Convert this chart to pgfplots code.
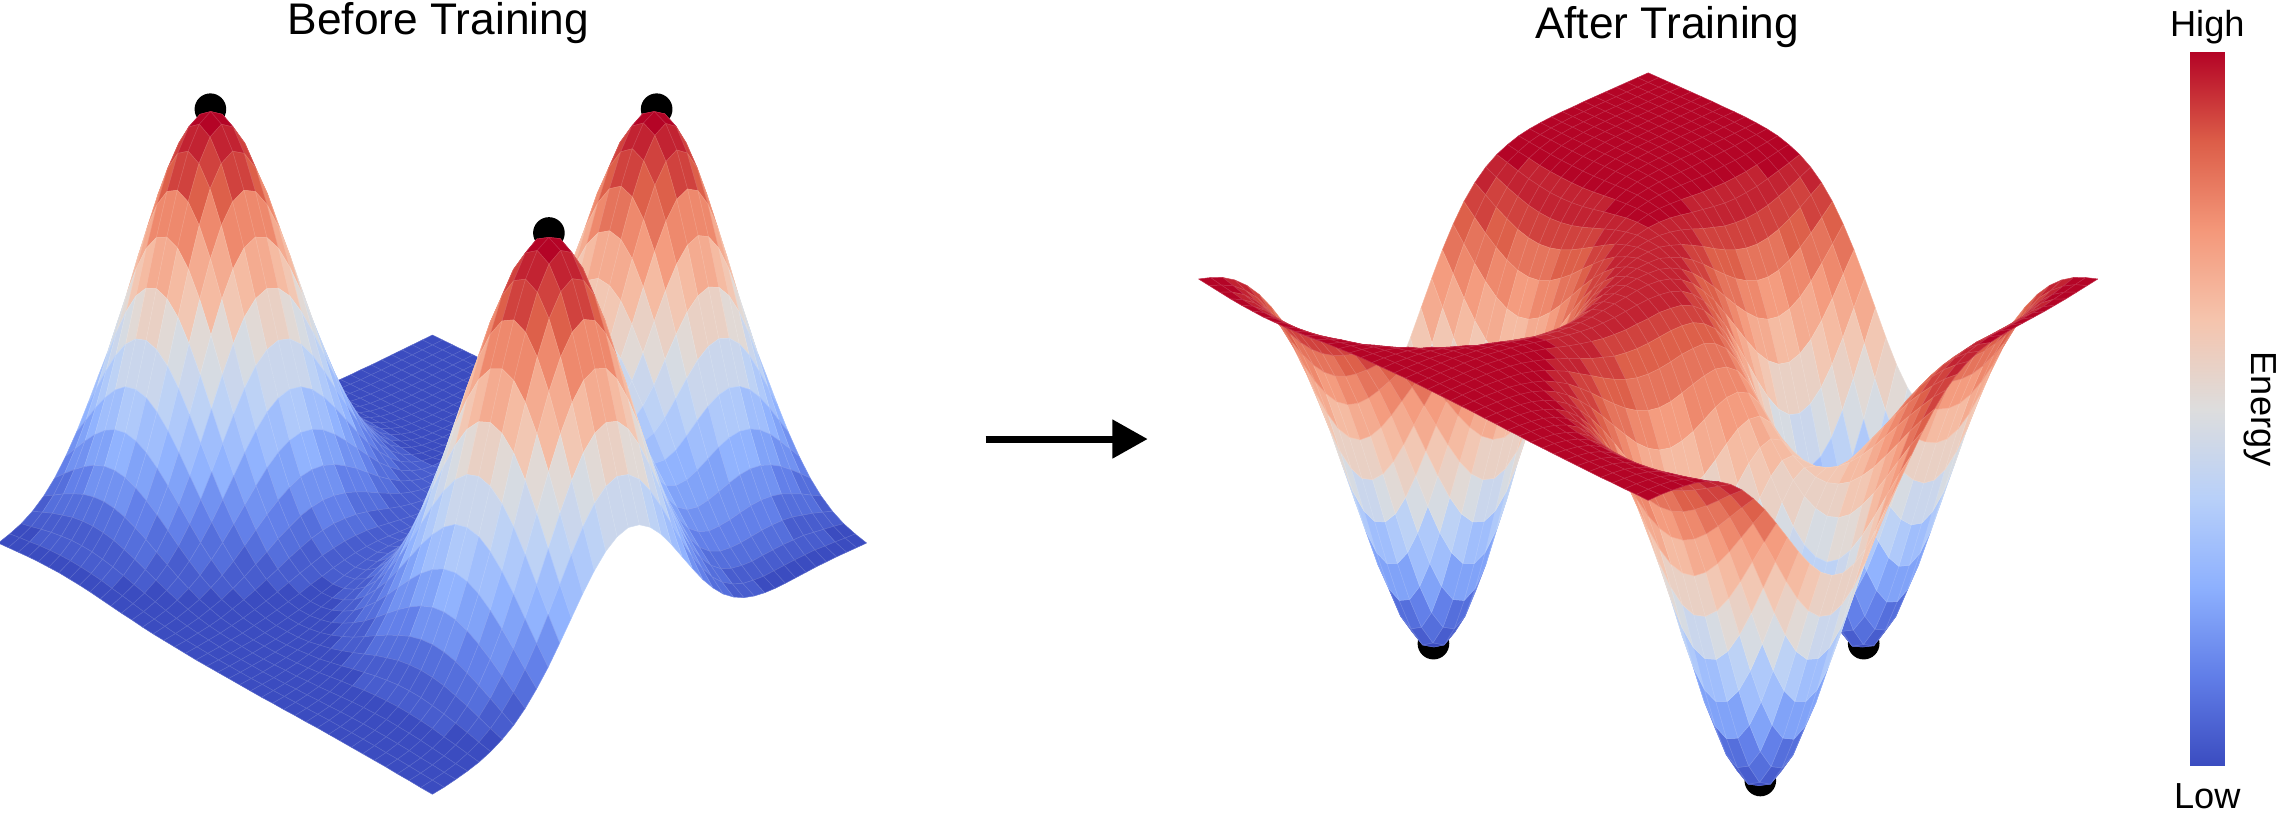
\documentclass[border=0pt]{standalone}
\usepackage{pgfplots}
\usepackage{pgfplotstable}
\usepackage{fontspec}
\setmainfont{Liberation Sans}
\pgfplotsset{compat=1.18}
\pgfplotsset{colormap={cwbase}{rgb255=(59,76,192) rgb255=(97,126,232) rgb255=(141,176,254) rgb255=(184,208,249) rgb255=(221,221,221) rgb255=(245,196,173) rgb255=(244,152,122) rgb255=(220,93,72) rgb255=(180,4,38)}}
\pgfplotsset{colormap={cwq}{samples of colormap=(24 of cwbase)}}
\pgfplotstableread{
z a
0 1000
0 1000
0 1000
0 1000
0 1000
0 1000
0 1000
1 999
1 999
2 998
4 996
7 993
12 988
21 979
33 967
51 949
76 924
109 891
151 849
200 800
256 744
315 685
374 626
427 573
469 531
496 504
506 494
496 504
469 531
427 573
374 626
315 685
256 744
200 800
151 849
109 891
76 924
51 949
33 967
21 979
12 988
0 1000
0 1000
0 1000
0 1000
0 1000
0 1000
0 1000
1 999
1 999
3 997
5 995
9 991
15 985
26 974
40 960
63 937
93 907
135 865
186 814
246 754
315 685
388 612
460 540
525 475
578 422
611 389
623 377
611 389
578 422
525 475
460 540
388 612
315 685
246 754
186 814
135 865
93 907
63 937
40 960
26 974
15 985
0 1000
0 1000
0 1000
0 1000
0 1000
0 1000
0 1000
1 999
2 998
3 997
6 994
10 990
18 982
30 970
48 952
75 925
111 889
160 840
220 780
292 708
374 626
460 540
546 454
623 377
685 315
725 275
739 261
725 275
685 315
623 377
546 454
460 540
374 626
292 708
220 780
160 840
111 889
75 925
48 952
30 970
18 982
0 1000
0 1000
0 1000
0 1000
0 1000
0 1000
0 1000
1 999
2 998
4 996
7 993
12 988
21 979
35 965
55 945
85 915
126 874
182 818
251 749
333 667
427 573
525 475
623 377
711 289
781 219
827 173
843 157
827 173
781 219
711 289
623 377
525 475
427 573
333 667
251 749
182 818
126 874
85 915
55 945
35 965
21 979
0 1000
0 1000
0 1000
0 1000
0 1000
0 1000
0 1000
1 999
2 998
4 996
7 993
13 987
23 977
38 962
60 940
94 906
139 861
200 800
276 724
366 634
469 531
578 422
685 315
781 219
859 141
909 91
927 73
909 91
859 141
781 219
685 315
578 422
469 531
366 634
276 724
200 800
139 861
94 906
60 940
38 962
23 977
0 1000
0 1000
0 1000
0 1000
0 1000
0 1000
1 999
1 999
2 998
4 996
8 992
14 986
24 976
40 960
64 936
99 901
147 853
212 788
292 708
388 612
496 504
611 389
725 275
827 173
909 91
962 38
981 19
962 38
909 91
827 173
725 275
611 389
496 504
388 612
292 708
212 788
147 853
99 901
64 936
40 960
24 976
0 1000
0 1000
0 1000
0 1000
1 999
1 999
1 999
2 998
3 997
5 995
8 992
14 986
25 975
41 959
65 935
101 899
150 850
216 784
298 702
395 605
506 494
623 377
739 261
843 157
927 73
981 19
1000 0
981 19
927 73
843 157
739 261
623 377
506 494
395 605
298 702
216 784
150 850
101 899
65 935
41 959
25 975
1 999
1 999
1 999
1 999
1 999
1 999
2 998
2 998
3 997
5 995
8 992
14 986
25 975
41 959
64 936
99 901
147 853
212 788
292 708
388 612
496 504
611 389
725 275
827 173
909 91
962 38
981 19
962 38
909 91
827 173
725 275
611 389
496 504
388 612
292 708
212 788
147 853
99 901
64 936
40 960
24 976
1 999
1 999
2 998
2 998
2 998
2 998
3 997
3 997
4 996
6 994
9 991
14 986
24 976
39 961
61 939
94 906
139 861
200 800
276 724
366 634
469 531
578 422
685 315
781 219
859 141
909 91
927 73
909 91
859 141
781 219
685 315
578 422
469 531
366 634
276 724
200 800
139 861
94 906
60 940
38 962
23 977
2 998
3 997
3 997
4 996
4 996
4 996
5 995
5 995
6 994
7 993
10 990
14 986
23 977
36 964
56 944
86 914
127 873
182 818
251 749
333 667
427 573
525 475
623 377
711 289
781 219
827 173
843 157
827 173
781 219
711 289
623 377
525 475
427 573
333 667
251 749
182 818
126 874
85 915
55 945
35 965
21 979
4 996
5 995
6 994
7 993
7 993
8 992
8 992
8 992
9 991
10 990
12 988
15 985
22 978
33 967
50 950
76 924
112 888
161 839
221 779
292 708
374 626
460 540
546 454
623 377
685 315
725 275
739 261
725 275
685 315
623 377
546 454
460 540
374 626
292 708
220 780
160 840
111 889
75 925
48 952
30 970
18 982
7 993
9 991
10 990
12 988
13 987
14 986
14 986
15 985
15 985
15 985
15 985
18 982
22 978
31 969
45 955
66 934
96 904
136 864
187 813
247 753
315 685
388 612
460 540
525 475
578 422
611 389
623 377
611 389
578 422
525 475
460 540
388 612
315 685
246 754
186 814
135 865
93 907
63 937
40 960
26 974
15 985
12 988
15 985
18 982
21 979
23 977
24 976
25 975
25 975
24 976
23 977
22 978
22 978
25 975
30 970
40 960
56 944
80 920
112 888
153 847
201 799
257 743
315 685
374 626
427 573
469 531
496 504
506 494
496 504
469 531
427 573
374 626
315 685
256 744
200 800
151 849
109 891
76 924
51 949
33 967
21 979
12 988
21 979
25 975
30 970
34 966
38 962
40 960
41 959
40 960
39 961
36 964
33 967
31 969
30 970
32 968
38 962
49 951
65 935
89 911
121 879
158 842
201 799
247 753
293 707
334 666
367 633
388 612
395 605
387 613
366 634
333 667
292 708
246 754
200 800
156 844
118 882
85 915
59 941
40 960
26 974
16 984
10 990
33 967
41 959
48 952
55 945
61 939
64 936
66 934
65 935
61 939
56 944
51 949
45 955
40 960
38 962
39 961
44 956
55 945
71 929
94 906
121 879
154 846
188 812
221 779
252 748
277 723
293 707
299 701
293 707
277 723
252 748
220 780
186 814
151 849
118 882
89 911
64 936
45 955
30 970
19 981
12 988
7 993
51 949
63 937
75 925
85 915
94 906
99 901
101 899
99 901
95 905
86 914
77 923
66 934
56 944
49 951
45 955
45 955
48 952
58 942
72 928
91 909
113 887
138 862
163 837
184 816
202 798
214 786
218 782
214 786
201 799
183 817
161 839
136 864
110 890
85 915
64 936
47 953
32 968
22 978
14 986
9 991
5 995
76 924
93 907
111 889
126 874
139 861
147 853
150 850
147 853
139 861
127 873
112 888
95 905
80 920
66 934
56 944
48 952
47 953
49 951
57 943
68 932
83 917
99 901
116 884
131 869
143 857
151 849
154 846
150 850
142 858
128 872
113 887
94 906
77 923
60 940
45 955
32 968
23 977
15 985
10 990
6 994
4 996
109 891
135 865
160 840
182 818
200 800
212 788
216 784
212 788
200 800
183 817
161 839
137 863
112 888
90 910
72 928
60 940
50 950
48 952
49 951
55 945
63 937
73 927
84 916
94 906
102 898
106 894
108 892
105 895
99 901
89 911
78 922
65 935
53 947
41 959
31 969
23 977
15 985
10 990
7 993
4 996
3 997
151 849
186 814
220 780
251 749
276 724
292 708
298 702
292 708
276 724
251 749
221 779
188 812
154 846
123 877
96 904
75 925
60 940
51 949
48 952
48 952
52 948
58 942
64 936
70 930
75 925
77 923
77 923
74 926
70 930
62 938
54 946
45 955
36 964
28 972
21 979
15 985
11 989
7 993
5 995
3 997
2 998
200 800
246 754
292 708
333 667
366 634
387 613
395 605
387 613
366 634
334 666
293 707
248 752
204 796
161 839
126 874
96 904
75 925
61 939
53 947
50 950
51 949
54 946
57 943
60 940
63 937
63 937
62 938
58 942
53 947
46 954
40 960
32 968
26 974
20 980
15 985
11 989
7 993
5 995
3 997
2 998
1 999
256 744
315 685
374 626
427 573
469 531
496 504
506 494
496 504
470 530
428 572
376 624
318 682
261 739
207 793
161 839
124 876
96 904
77 923
66 934
61 939
59 941
60 940
62 938
64 936
64 936
63 937
59 941
54 946
48 952
41 959
34 966
27 973
21 979
16 984
11 989
8 992
5 995
4 996
2 998
1 999
1 999
315 685
388 612
460 540
525 475
578 422
611 389
623 377
612 388
579 421
527 473
463 537
392 608
322 678
256 744
201 799
156 844
121 879
99 901
85 915
80 920
77 923
79 921
79 921
80 920
78 922
75 925
69 931
62 938
54 946
45 955
36 964
28 972
21 979
15 985
11 989
7 993
5 995
3 997
2 998
1 999
1 999
374 626
460 540
546 454
623 377
685 315
725 275
739 261
726 274
686 314
626 374
550 450
467 533
384 616
307 693
243 757
191 809
152 848
128 872
113 887
108 892
107 893
109 891
111 889
111 889
108 892
103 897
93 907
83 917
70 930
58 942
46 954
35 965
26 974
18 982
12 988
8 992
5 995
3 997
2 998
1 999
1 999
427 573
525 475
623 377
711 289
781 219
827 173
844 156
828 172
783 217
715 285
629 371
535 465
442 558
356 644
283 717
227 773
186 814
162 838
149 851
148 852
149 851
154 846
157 843
157 843
153 847
144 856
131 869
115 885
97 903
80 920
62 938
48 952
34 966
24 976
16 984
11 989
7 993
4 996
2 998
1 999
1 999
469 531
578 422
685 315
781 219
859 141
910 90
928 72
911 89
862 138
786 214
694 306
592 408
491 509
398 602
323 677
265 735
225 775
204 796
196 804
199 801
206 794
214 786
221 779
222 778
216 784
203 797
185 815
162 838
137 863
111 889
87 913
65 935
48 952
33 967
23 977
15 985
9 991
6 994
3 997
2 998
1 999
496 504
611 389
725 275
827 173
909 91
963 37
982 18
964 36
913 87
834 166
737 263
630 370
526 474
433 567
356 644
301 699
265 735
250 750
250 750
260 740
276 724
291 709
300 700
303 697
295 705
278 722
253 747
221 779
187 813
152 848
119 881
90 910
65 935
45 955
30 970
19 981
12 988
7 993
4 996
2 998
1 999
506 494
623 377
739 261
843 157
927 73
982 18
1000 0
984 16
933 67
853 147
755 245
649 351
546 454
454 546
383 617
334 666
306 694
301 699
311 689
333 667
358 642
380 620
395 605
399 601
389 611
368 632
334 666
292 708
246 754
200 800
156 844
118 882
85 915
59 941
40 960
26 974
16 984
10 990
6 994
3 997
2 998
496 504
611 389
725 275
827 173
910 90
963 37
983 17
966 34
916 84
839 161
746 254
644 356
547 453
464 536
401 599
363 637
347 653
355 645
379 621
414 586
451 549
483 517
504 496
510 490
498 502
470 530
428 572
374 626
315 685
256 744
200 800
151 849
109 891
76 924
51 949
33 967
21 979
12 988
7 993
4 996
2 998
469 531
578 422
685 315
781 219
860 140
910 90
930 70
914 86
868 132
796 204
711 289
619 381
532 468
460 540
411 589
386 614
385 615
409 591
448 552
498 502
548 452
591 409
618 382
627 373
613 387
579 421
526 474
460 540
388 612
315 685
246 754
186 814
135 865
94 906
63 937
41 959
26 974
15 985
9 991
5 995
3 997
427 573
525 475
623 377
711 289
782 218
829 171
846 154
833 167
791 209
729 271
653 347
573 427
502 498
444 556
411 589
402 598
418 582
459 541
515 485
581 419
644 356
697 303
732 268
743 257
727 273
686 314
623 377
546 454
460 540
374 626
292 708
220 780
160 840
111 889
75 925
48 952
30 970
18 982
10 990
6 994
3 997
374 626
460 540
546 454
623 377
686 314
727 273
743 257
732 268
697 303
644 356
581 419
515 485
459 541
418 582
402 598
411 589
444 556
502 498
573 427
653 347
729 271
791 209
833 167
846 154
829 171
782 218
711 289
623 377
525 475
427 573
333 667
251 749
182 818
126 874
85 915
55 945
35 965
21 979
12 988
7 993
4 996
315 685
388 612
460 540
526 474
579 421
613 387
627 373
618 382
591 409
548 452
498 502
448 552
409 591
385 615
386 614
411 589
459 541
532 468
618 382
711 289
796 204
868 132
914 86
930 70
910 90
860 140
781 219
685 315
578 422
469 531
366 634
276 724
200 800
139 861
94 906
60 940
38 962
23 977
13 987
7 993
4 996
256 744
315 685
374 626
428 572
470 530
498 502
510 490
504 496
483 517
451 549
414 586
379 621
355 645
347 653
363 637
401 599
464 536
547 453
644 356
746 254
839 161
916 84
966 34
983 17
963 37
910 90
827 173
725 275
611 389
496 504
388 612
292 708
212 788
147 853
99 901
64 936
40 960
24 976
14 986
8 992
4 996
200 800
246 754
292 708
334 666
367 633
389 611
399 601
395 605
380 620
358 642
333 667
311 689
301 699
306 694
334 666
383 617
454 546
546 454
649 351
755 245
853 147
933 67
984 16
1000 0
982 18
927 73
843 157
739 261
623 377
506 494
395 605
298 702
216 784
150 850
101 899
65 935
41 959
25 975
14 986
8 992
4 996
151 849
186 814
220 780
252 748
277 723
294 706
302 698
300 700
290 710
275 725
260 740
250 750
250 750
265 735
301 699
356 644
433 567
526 474
630 370
737 263
834 166
913 87
964 36
982 18
963 37
909 91
827 173
725 275
611 389
496 504
388 612
292 708
212 788
147 853
99 901
64 936
40 960
24 976
14 986
8 992
4 996
109 891
135 865
160 840
183 817
201 799
214 786
220 780
219 781
213 787
205 795
198 802
195 805
203 797
224 776
264 736
323 677
398 602
491 509
592 408
694 306
786 214
862 138
911 89
928 72
910 90
859 141
781 219
685 315
578 422
469 531
366 634
276 724
200 800
139 861
94 906
60 940
38 962
23 977
13 987
7 993
4 996
76 924
93 907
111 889
126 874
140 860
149 851
154 846
154 846
151 849
147 853
146 854
148 852
161 839
185 815
227 773
283 717
356 644
442 558
535 465
629 371
715 285
783 217
828 172
844 156
827 173
781 219
711 289
623 377
525 475
427 573
333 667
251 749
182 818
126 874
85 915
55 945
35 965
21 979
12 988
7 993
4 996
51 949
63 937
75 925
85 915
95 905
101 899
104 896
105 895
104 896
103 897
105 895
111 889
126 874
151 849
190 810
242 758
307 693
384 616
467 533
550 450
626 374
686 314
726 274
739 261
725 275
685 315
623 377
546 454
460 540
374 626
292 708
220 780
160 840
111 889
75 925
48 952
30 970
18 982
10 990
6 994
3 997
33 967
41 959
48 952
55 945
62 938
65 935
68 932
69 931
70 930
70 930
74 926
82 918
96 904
120 880
155 845
200 800
256 744
322 678
392 608
463 537
527 473
579 421
612 388
623 377
611 389
578 422
525 475
460 540
388 612
315 685
246 754
186 814
135 865
94 906
63 937
41 959
26 974
15 985
9 991
5 995
3 997
21 979
25 975
30 970
34 966
39 961
41 959
43 957
44 956
45 955
46 954
51 949
58 942
72 928
92 908
121 879
160 840
206 794
260 740
318 682
376 624
428 572
470 530
496 504
506 494
496 504
469 531
427 573
374 626
315 685
256 744
200 800
151 849
109 891
76 924
51 949
33 967
21 979
12 988
7 993
4 996
2 998
12 988
15 985
18 982
21 979
23 977
25 975
26 974
27 973
28 972
30 970
34 966
41 959
52 948
69 931
92 908
123 877
160 840
203 797
248 752
293 707
334 666
366 634
387 613
395 605
387 613
366 634
333 667
292 708
246 754
200 800
156 844
118 882
85 915
59 941
40 960
26 974
16 984
10 990
6 994
3 997
2 998
}\surfdata
\begin{document}
\begin{tikzpicture}
\begin{axis}[
  width=22.83cm,height=8.14cm,scale only axis,
  xmin=0,xmax=1568,ymin=-559,ymax=0,
  hide axis,clip=false]
% black points behind the surfaces
\addplot[only marks,mark=*,mark size=4.3pt,black,forget plot] coordinates {(144.5,-75) (451,-75) (377,-160) (984.5,-442) (1280,-442) (1209,-536)};
\end{axis}
\begin{axis}[
  width=22.83cm,height=8.14cm,scale only axis,
  xmin=0,xmax=1568,ymin=-559,ymax=0,
  hide axis,clip=false,
  declare function={
    XX(\i)=(40-mod(\i,41))/40;
    YY(\i)=(40-floor((\i+0.5)/41))/40;
    wb(\i,\g)=1+0.082*(XX(\i)+YY(\i))-0.04*\g;
    ub(\i,\g)=297+322.5*(XX(\i)-YY(\i))/wb(\i,\g);
    vb(\i,\g)=(546-139.1*(XX(\i)+YY(\i))-298*\g)/wb(\i,\g);
    wa(\i,\g)=1.04+0.0616*(XX(\i)+YY(\i))-0.04*\g;
    ua(\i,\g)=1132+328*(XX(\i)-YY(\i))/wa(\i,\g);
    va(\i,\g)=(667-143.4*(XX(\i)+YY(\i))-324*\g)/wa(\i,\g);
  },
]
% before training
\addplot[surf,shader=faceted,faceted color=mapped color!84!white,line width=0.14pt,line join=bevel,colormap name=cwq,colormap access=piecewise constant,mesh/rows=41,mesh/cols=41,
  point meta=\thisrow{z},point meta min=0,point meta max=1000]
  table[x expr={ub(\coordindex,\thisrow{z}/1000)},y expr={-vb(\coordindex,\thisrow{z}/1000)}] {\surfdata};
% after training
\addplot[surf,shader=faceted,faceted color=mapped color!84!white,line width=0.14pt,line join=bevel,colormap name=cwq,colormap access=piecewise constant,mesh/rows=41,mesh/cols=41,
  point meta=\thisrow{a},point meta min=0,point meta max=1000]
  table[x expr={ua(\coordindex,\thisrow{a}/1000)},y expr={-va(\coordindex,\thisrow{a}/1000)}] {\surfdata};
\node[inner sep=0pt,font=\fontsize{12.6}{14}\selectfont] at (axis cs:301,-16) {Before Training};
\node[inner sep=0pt,font=\fontsize{12.6}{14}\selectfont] at (axis cs:1145,-18.5) {After Training};
\node[inner sep=0pt,font=\fontsize{10.3}{12}\selectfont] at (axis cs:1516,-18.5) {High};
\node[inner sep=0pt,font=\fontsize{10.3}{12}\selectfont] at (axis cs:1516,-547) {Low};
\node[inner sep=0pt,font=\fontsize{10.3}{12}\selectfont,rotate=-90] at (axis cs:1552,-281) {Energy};
\draw[line width=2pt,black] (axis cs:677,-301.5)--(axis cs:766,-301.5);
\fill[black] (axis cs:764,-288)--(axis cs:788,-301.5)--(axis cs:764,-315)--cycle;
\end{axis}
\begin{axis}[
  width=22.83cm,height=8.14cm,scale only axis,
  xmin=0,xmax=1568,ymin=-559,ymax=0,
  hide axis,clip=false]
% colour bar
\addplot[surf,shader=interp,colormap name=cwbase,mesh/rows=9,mesh/cols=2,
  point meta=explicit,point meta min=0,point meta max=8]
  table[x=x,y=y,meta=m] {
x y m
1504.4 -36 8
1527.7 -36 8
1504.4 -97 7
1527.7 -97 7
1504.4 -158.5 6
1527.7 -158.5 6
1504.4 -219.5 5
1527.7 -219.5 5
1504.4 -281 4
1527.7 -281 4
1504.4 -342 3
1527.7 -342 3
1504.4 -403.5 2
1527.7 -403.5 2
1504.4 -464.5 1
1527.7 -464.5 1
1504.4 -526 0
1527.7 -526 0
};
\end{axis}
\pgfresetboundingbox
\path (0,0) rectangle (22.83cm,8.14cm);
\end{tikzpicture}
\end{document}
